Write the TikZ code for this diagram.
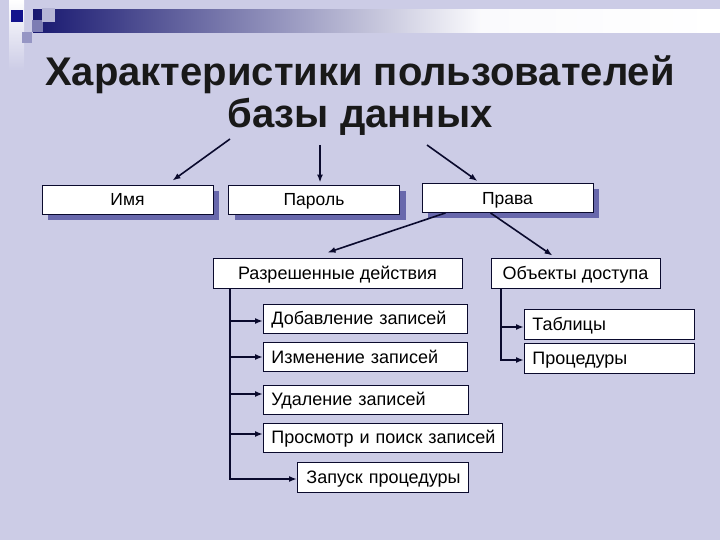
\documentclass[tikz,border=0pt]{standalone}
\usepackage{fontspec}
\setmainfont{Liberation Sans}
\usetikzlibrary{shadows,arrows.meta}
\definecolor{bgc}{RGB}{204,204,230}
\definecolor{shadowc}{RGB}{104,104,172}
\definecolor{linec}{RGB}{10,10,45}
\definecolor{navy}{RGB}{24,24,112}
\definecolor{paleblue}{RGB}{150,150,196}

\begin{document}
\begin{tikzpicture}[x=1pt, y=-1pt,
  arr/.style={-{Latex[length=8pt,width=6pt]}, linec, line width=1.6pt},
  topbox/.style={draw=linec, fill=white, line width=0.9pt, minimum width=171pt, minimum height=29pt,
    inner sep=0pt, text height=12.5pt, text depth=0pt, font=\fontsize{17.5}{20}\selectfont,
    drop shadow={shadow xshift=6pt, shadow yshift=-6pt, fill=shadowc, opacity=1}},
  midbox/.style={draw=linec, fill=white, line width=0.9pt, minimum height=30pt, inner sep=0pt,
    text height=12.8pt, text depth=0pt, font=\fontsize{18}{21}\selectfont},
  subbox/.style={midbox, anchor=west, align=left, inner xsep=8pt, minimum height=29pt}]
  \useasboundingbox (0,0) rectangle (720,540);
  \fill[bgc] (0,0) rectangle (720,540);

  % header ornament
  \shade[top color=white, bottom color=bgc] (9,0) rectangle (24,70);
  \shade[left color=navy, right color=white!90!bgc] (33,10) rectangle (480,33);
  \shade[left color=white!90!bgc, right color=white] (480,10) rectangle (720,33);
  \fill[paleblue] (22,32) rectangle (32,43);
  \fill[paleblue!80!navy] (32,20) rectangle (43,32);
  \fill[paleblue!70!white] (42,8) rectangle (55,22);
  \fill[navy!80!blue] (11,10) rectangle (23,22);

  % title
  \node[anchor=base, font=\fontsize{40}{44}\selectfont\bfseries, text=black!90] (title1) at (360,86) {Характеристики пользователей};
  \node[anchor=base, font=\fontsize{40}{44}\selectfont\bfseries, text=black!90] (title2) at (360,128) {базы данных};

  % first level
  \node[topbox] (name) at (127.5,199.5) {Имя};
  \node[topbox] (pass) at (314,199.5) {Пароль};
  \node[topbox] (rights) at (507.5,198) {Права};

  \coordinate (t1) at (230,139);
  \coordinate (t2) at (320,145);
  \coordinate (t3) at (427,145);
  \draw[arr] (t1) -- ([xshift=45pt, yshift=4pt]name.north);
  \draw[arr] (t2) -- ([xshift=6pt, yshift=2pt]pass.north);
  \draw[arr] (t3) -- ([xshift=-30pt, yshift=2pt]rights.north);

  % second level
  \node[midbox, minimum width=249pt] (acts) at (337.5,273) {Разрешенные действия};
  \node[midbox, minimum width=169pt] (objs) at (575.5,273) {Объекты доступа};
  \draw[arr] ([xshift=-62pt]rights.south) -- ([xshift=-10pt, yshift=5pt]acts.north);
  \draw[arr] ([xshift=-17pt]rights.south) -- ([xshift=-23pt, yshift=2pt]objs.north);

  % actions
  \node[subbox, text width=188pt] (add) at (263,318.5) {\mbox{Добавление записей}};
  \node[subbox, text width=188pt] (edit) at (263,357) {\mbox{Изменение записей}};
  \node[subbox, text width=189pt] (del) at (263,399.5) {\mbox{Удаление записей}};
  \node[subbox, text width=223pt] (find) at (263,437.5) {\mbox{Просмотр и поиск записей}};
  \node[subbox, text width=153pt, inner xsep=9pt, minimum height=30pt] (run) at (297,477) {\mbox{Запуск процедуры}};

  \coordinate (trunkL) at (230,0);
  \draw[arr] (trunkL |- acts.south) |- ([yshift=-2pt]run.west);
  \foreach \n/\s in {add/-2.5, edit/0, del/5.5, find/3.5}
    \draw[arr] ([xshift=-33pt, yshift=\s pt]\n.west) -- ([yshift=\s pt]\n.west);

  % objects
  \node[subbox, text width=154pt, minimum height=30pt] (tab) at (524,324) {\mbox{Таблицы}};
  \node[subbox, text width=154pt, minimum height=30pt] (proc) at (524,358) {\mbox{Процедуры}};

  \coordinate (trunkR) at (501,0);
  \draw[arr] (trunkR |- objs.south) |- ([yshift=-2pt]proc.west);
  \draw[arr] ([xshift=-23pt, yshift=-3pt]tab.west) -- ([yshift=-3pt]tab.west);
\end{tikzpicture}
\end{document}
